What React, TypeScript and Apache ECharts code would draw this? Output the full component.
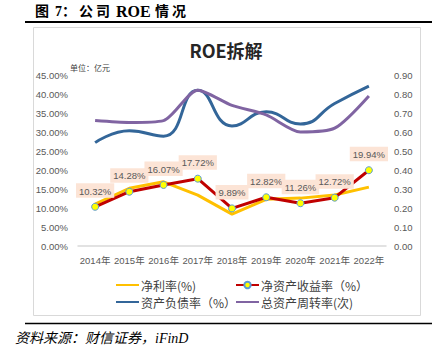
import React, { useEffect, useRef } from "react";
import * as echarts from "echarts";

const years = ["2014年", "2015年", "2016年", "2017年", "2018年", "2019年", "2020年", "2021年", "2022年"];
const netMargin = [11.0, 15.2, 16.9, 13.4, 8.4, 12.3, 12.6, 13.4, 15.5];
const roe = [10.32, 14.28, 16.07, 17.72, 9.89, 12.82, 11.26, 12.72, 19.94];
const debtRatio = [27.2, 30.3, 28.9, 41.0, 31.6, 35.3, 32.1, 37.5, 42.1];
const turnover = [0.66, 0.65, 0.66, 0.82, 0.74, 0.69, 0.6, 0.62, 0.79];

const names = ["净利率(%)", "净资产收益率（%）", "资产负债率（%）", "总资产周转率(次)"];

const CJK = "'Noto Sans CJK SC', 'Liberation Sans', sans-serif";
const NUM = "'Liberation Sans', 'Noto Sans CJK SC', sans-serif";
const SERIF = "'Liberation Serif', 'Noto Sans CJK SC', serif";

const headerParts: [string, number][] = [
  ["图", 35], ["7", 55], ["：", 62], ["公", 79], ["司", 96], ["ROE", 116], ["情", 155], ["况", 172],
];

export default function App() {
  const ref = useRef<HTMLDivElement>(null);
  useEffect(() => {
    const chart = echarts.init(ref.current!, null, { renderer: "svg" });
    const hidden = { opacity: 0, borderWidth: 0 };
    chart.setOption({
      animation: false,
      backgroundColor: "#ffffff",
      graphic: [
        ...headerParts.map(([t, x]) => ({
          type: "text", x, y: 11,
          style: { text: t, font: `bold ${t === "ROE" ? 16 : 14}px ${SERIF}`, fill: "#000", verticalAlign: "middle" },
        })),
        { type: "line", shape: { x1: 25, y1: 22, x2: 432, y2: 22 }, style: { stroke: "#000", lineWidth: 2 } },
        { type: "rect", z: -10, shape: { x: 33.5, y: 27.5, width: 387, height: 288 }, style: { fill: "#fff", stroke: "#D9D9D9", lineWidth: 1 } },
        { type: "text", x: 226, y: 50, style: { text: "ROE拆解", font: `bold 18px ${CJK}`, fill: "#262626", align: "center", verticalAlign: "middle" } },
        { type: "text", x: 70, y: 67, style: { text: "单位：亿元", font: `8px ${CJK}`, fill: "#404040", verticalAlign: "middle" } },
        { type: "line", shape: { x1: 25, y1: 323.5, x2: 432, y2: 323.5 }, style: { stroke: "#000", lineWidth: 1.5 } },
        { type: "text", x: 15, y: 338, style: { text: "资料来源：财信证券，iFinD", font: `italic 14px ${SERIF}`, fill: "#000", verticalAlign: "middle" } },
      ],
      grid: { left: 78, right: 56, top: 75, bottom: 113 },
      legend: [
        {
          left: 110, top: 274, orient: "vertical", itemGap: 5, itemWidth: 23, itemHeight: 8,
          data: [{ name: names[0], itemStyle: hidden }, { name: names[2], itemStyle: hidden }],
          textStyle: { color: "#404040", fontSize: 12, fontFamily: CJK, padding: [0, 0, 0, -3] },
        },
        {
          left: 230, top: 274, orient: "vertical", itemGap: 5, itemWidth: 23, itemHeight: 8,
          data: [{ name: names[1] }, { name: names[3], itemStyle: hidden }],
          textStyle: { color: "#404040", fontSize: 12, fontFamily: CJK, padding: [0, 0, 0, -3] },
        },
      ],
      xAxis: {
        type: "category",
        data: years,
        axisTick: { show: false },
        axisLine: { lineStyle: { color: "#D9D9D9", width: 1.5 } },
        axisLabel: { color: "#595959", fontSize: 9.5, fontFamily: NUM, margin: 10, interval: 0 },
      },
      yAxis: [
        {
          type: "value", min: 0, max: 45, interval: 5,
          splitLine: { show: false },
          axisLine: { show: false }, axisTick: { show: false },
          axisLabel: { color: "#595959", fontSize: 9.5, fontFamily: NUM, margin: 10, formatter: (v: number) => v.toFixed(2) + "%" },
        },
        {
          type: "value", min: 0, max: 0.9, interval: 0.1,
          splitLine: { show: false },
          axisLine: { show: false }, axisTick: { show: false },
          axisLabel: { color: "#595959", fontSize: 9.5, fontFamily: NUM, margin: 8, formatter: (v: number) => v.toFixed(2) },
        },
      ],
      series: [
        {
          name: names[0], type: "line", data: netMargin, yAxisIndex: 0, symbol: "none",
          lineStyle: { color: "#FFC000", width: 3 }, itemStyle: { color: "#FFC000" },
        },
        {
          name: names[1], type: "line", data: roe, yAxisIndex: 0, symbol: "circle", symbolSize: 7,
          lineStyle: { color: "#C00000", width: 3 },
          itemStyle: { color: "#FFFF00", borderColor: "#5B9BD5", borderWidth: 1 },
          label: {
            show: true, position: "top", distance: 5,
            formatter: (p: any) => p.value.toFixed(2) + "%",
            color: "#595959", fontSize: 9.5, fontFamily: NUM,
            backgroundColor: "#FCE4D6", padding: [3, 3, 2, 3],
          },
          z: 5,
        },
        {
          name: names[2], type: "line", data: debtRatio, yAxisIndex: 0, symbol: "none", smooth: 0.5,
          lineStyle: { color: "#336699", width: 3 }, itemStyle: { color: "#336699" },
        },
        {
          name: names[3], type: "line", data: turnover, yAxisIndex: 1, symbol: "none", smooth: 0.25,
          lineStyle: { color: "#8064A2", width: 3 }, itemStyle: { color: "#8064A2" },
        },
      ],
    });
    return () => chart.dispose();
  }, []);
  return <div ref={ref} style={{ position: "fixed", left: 0, top: 0, width: 442, height: 359 }} />;
}
